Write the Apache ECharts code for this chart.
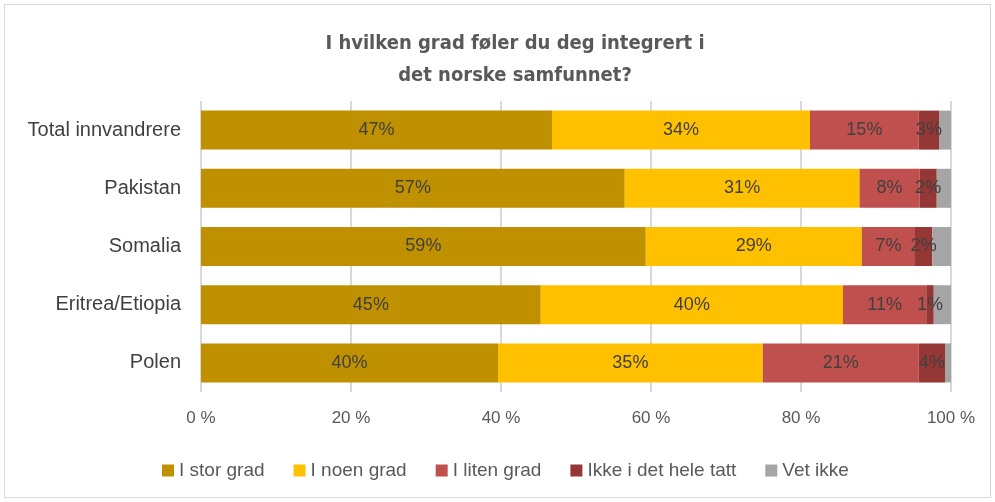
<!DOCTYPE html>
<html>
<head>
<meta charset="utf-8">
<script src="https://cdn.jsdelivr.net/npm/echarts@6/dist/echarts.min.js"></script>
<style>
  html, body { margin: 0; padding: 0; background: #fff; }
  #frame {
    position: absolute; left: 4px; top: 4px;
    width: 985px; height: 492px;
    border: 1px solid #d9d9d9;
  }
  #chart { position: absolute; left: -5px; top: -5px; width: 995px; height: 502px; }
</style>
</head>
<body>
<div id="frame"><div id="chart"></div></div>
<script>
// categories, top to bottom
var categories = ["Total innvandrere", "Pakistan", "Somalia", "Eritrea/Etiopia", "Polen"];
var seriesNames = ["I stor grad", "I noen grad", "I liten grad", "Ikke i det hele tatt", "Vet ikke"];

// percentages per category
var storGrad = [46.8, 56.5, 59.3, 45.3, 39.6];
var noenGrad = [34.4, 31.3, 28.8, 40.3, 35.3];
var litenGrad = [14.5, 8.0, 7.1, 11.1, 20.8];
var ikkeIDetHeleTatt = [2.7, 2.3, 2.3, 1.0, 3.5];
var vetIkke = [1.6, 1.9, 2.5, 2.3, 0.8];

var xTicks = [0, 20, 40, 60, 80, 100];

var colors = ["#BF9000", "#FFC000", "#C0504D", "#953735", "#A5A5A5"];
var FONT = "'Liberation Sans', Arial, sans-serif";

var myChart = echarts.init(document.getElementById("chart"));

function makeSeries(name, data, showLabel) {
  return {
    name: name,
    type: "bar",
    stack: "total",
    barWidth: "67%",
    data: data,
    label: {
      show: showLabel,
      position: "inside",
      color: "#404040",
      fontFamily: FONT,
      fontSize: 18,
      formatter: function (p) { return Math.round(p.value) + "%"; }
    },
    emphasis: { disabled: true }
  };
}

var option = {
  color: colors,
  animation: false,
  title: {
    text: "I hvilken grad føler du deg integrert i\ndet norske samfunnet?",
    left: 510,
    top: 23,
    textAlign: "center",
    textStyle: {
      fontFamily: "'DejaVu Sans Condensed', " + FONT,
      fontWeight: "bold",
      fontSize: 20,
      color: "#595959",
      lineHeight: 32
    }
  },
  legend: {
    data: seriesNames,
    top: 456,
    left: 157,
    itemWidth: 12,
    itemHeight: 12,
    itemGap: 29,
    icon: "rect",
    textStyle: { fontFamily: FONT, fontSize: 19, color: "#595959" }
  },
  grid: { left: 201, right: 44, top: 101, bottom: 110, containLabel: false },
  xAxis: {
    type: "value",
    min: xTicks[0],
    max: xTicks[xTicks.length - 1],
    interval: 20,
    axisLine: { show: false },
    axisTick: { show: false },
    splitLine: { lineStyle: { color: "#d9d9d9", width: 2 } },
    axisLabel: {
      margin: 18,
      color: "#595959",
      fontFamily: FONT,
      fontSize: 17,
      formatter: "{value} %"
    }
  },
  yAxis: {
    type: "category",
    inverse: true,
    data: categories,
    axisLine: { show: false },
    axisTick: { show: false },
    axisLabel: { margin: 20, color: "#404040", fontFamily: FONT, fontSize: 20 }
  },
  series: [
    makeSeries(seriesNames[0], storGrad, true),
    makeSeries(seriesNames[1], noenGrad, true),
    makeSeries(seriesNames[2], litenGrad, true),
    makeSeries(seriesNames[3], ikkeIDetHeleTatt, true),
    makeSeries(seriesNames[4], vetIkke, false)
  ]
};

myChart.setOption(option);
</script>
</body>
</html>
